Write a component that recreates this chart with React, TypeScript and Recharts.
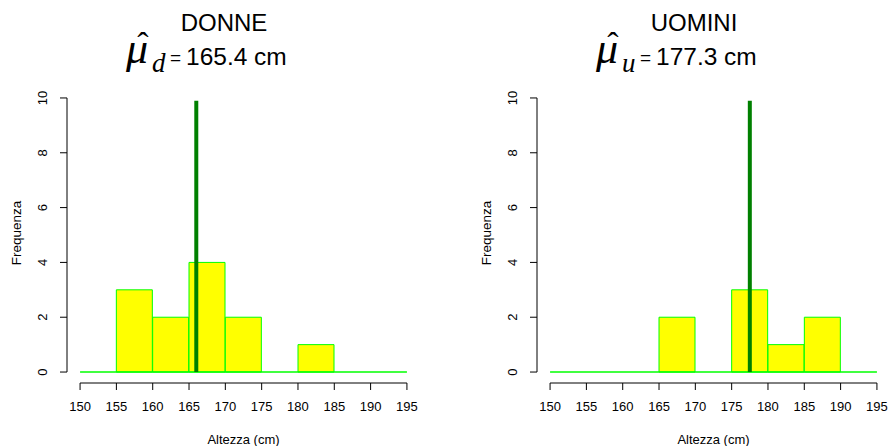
import React from 'react';
import { ComposedChart, Bar, XAxis, YAxis, ReferenceLine } from 'recharts';

const breaks = [150, 155, 160, 165, 170, 175, 180, 185, 190, 195];
const binLabels = ['150-155', '155-160', '160-165', '165-170', '170-175', '175-180', '180-185', '185-190', '190-195'];
const donneCounts = [0, 3, 2, 4, 2, 0, 1, 0, 0];
const uominiCounts = [0, 0, 0, 2, 0, 3, 1, 2, 0];
const yTicks = [0, 2, 4, 6, 8, 10];
const donneMeanLine = 166;
const uominiMeanLine = 177.5;
const donneMeanLabel = '165.4';
const uominiMeanLabel = '177.3';

const SANS = '"Liberation Sans", Arial, Helvetica, sans-serif';
const SERIF = '"Liberation Serif", "Times New Roman", serif';

const W = 445;
const H = 446;
const PLOT_LEFT = 67;
const PLOT_RIGHT_MARGIN = 25;
const PLOT_TOP = 87;
const X_AXIS_H = 63;

const YTick = ({ x, y, payload }: any) => (
  <text
    x={x - 5}
    y={y}
    transform={`rotate(-90 ${x - 5} ${y})`}
    textAnchor="middle"
    dominantBaseline="central"
    fontFamily={SANS}
    fontSize={13}
    fill="#000"
  >
    {payload.value}
  </text>
);

const Histogram = ({ counts, meanLine }: { counts: number[]; meanLine: number }) => {
  const data = binLabels.map((bin, i) => ({
    bin,
    mid: (breaks[i] + breaks[i + 1]) / 2,
    count: counts[i],
  }));
  return (
    <ComposedChart
      width={W}
      height={H}
      data={data}
      barCategoryGap={0}
      barGap={0}
      margin={{ top: PLOT_TOP, right: PLOT_RIGHT_MARGIN, bottom: 0, left: 0 }}
    >
      <XAxis
        xAxisId="num"
        dataKey="mid"
        type="number"
        domain={[148.2, 196.8]}
        ticks={breaks}
        allowDataOverflow
        height={X_AXIS_H}
        axisLine={false}
        tickLine={{ stroke: '#000', strokeWidth: 1 }}
        tickSize={7}
        tickMargin={12}
        tick={{ fontFamily: SANS, fontSize: 13, fill: '#000' }}
        interval={0}
      />
      <XAxis xAxisId="cat" dataKey="bin" type="category" hide height={0} padding={{ left: 13, right: 13 }} />
      <YAxis
        type="number"
        domain={[-0.4, 10.4]}
        ticks={yTicks}
        allowDataOverflow
        width={PLOT_LEFT}
        axisLine={false}
        tickLine={{ stroke: '#000', strokeWidth: 1 }}
        tickSize={7}
        tickMargin={12}
        tick={<YTick />}
        interval={0}
      />
      <ReferenceLine
        xAxisId="num"
        segment={[{ x: breaks[0], y: 0 }, { x: breaks[breaks.length - 1], y: 0 }]}
        stroke="#00ff00"
        strokeWidth={1.5}
        ifOverflow="visible"
      />
      <Bar
        xAxisId="cat"
        dataKey="count"
        fill="#ffff00"
        stroke="#00ff00"
        strokeWidth={1}
        isAnimationActive={false}
      />
      <ReferenceLine
        xAxisId="num"
        segment={[{ x: meanLine, y: 0 }, { x: meanLine, y: 9.9 }]}
        stroke="#008000"
        strokeWidth={4}
        ifOverflow="visible"
      />
      <ReferenceLine
        xAxisId="num"
        segment={[{ x: breaks[0], y: -0.4 }, { x: breaks[breaks.length - 1], y: -0.4 }]}
        stroke="#000"
        strokeWidth={1}
        ifOverflow="visible"
      />
      <ReferenceLine
        xAxisId="num"
        segment={[{ x: 148.2, y: 0 }, { x: 148.2, y: 10 }]}
        stroke="#000"
        strokeWidth={1}
        ifOverflow="visible"
      />
    </ComposedChart>
  );
};

const Titles = ({ name, sub, mean, dx }: { name: string; sub: string; mean: string; dx: number }) => (
  <g transform={`translate(${dx},0)`}>
    <text x={224} y={31} textAnchor="middle" fontFamily={SANS} fontSize={24} fill="#000">
      {name}
    </text>
    <text x={126} y={63} fontFamily={SERIF} fontStyle="italic" fontSize={44} fill="#000">
      {'\u03bc'}
    </text>
    <text x={143} y={56} textAnchor="middle" fontFamily={SERIF} fontSize={34} fill="#000">
      {'\u02c6'}
    </text>
    <text x={152} y={72} fontFamily={SERIF} fontStyle="italic" fontSize={27} fill="#000">
      {sub}
    </text>
    <text x={170} y={64} fontFamily={SANS} fontSize={19} fill="#000">
      =
    </text>
    <text x={186} y={65} fontFamily={SANS} fontSize={24.5} fill="#000">
      {`${mean} cm`}
    </text>
    <text
      x={16}
      y={233}
      transform="rotate(-90 16 233)"
      textAnchor="middle"
      dominantBaseline="central"
      fontFamily={SANS}
      fontSize={13.5}
      fill="#000"
    >
      Frequenza
    </text>
    <text x={243.5} y={439} textAnchor="middle" dominantBaseline="central" fontFamily={SANS} fontSize={13} fill="#000">
      Altezza (cm)
    </text>
  </g>
);

export default function App() {
  return (
    <div style={{ position: 'absolute', left: 0, top: 0, width: 890, height: 446, overflow: 'hidden', background: '#fff' }}>
      <div style={{ position: 'absolute', left: 0, top: 0 }}>
        <Histogram counts={donneCounts} meanLine={donneMeanLine} />
      </div>
      <div style={{ position: 'absolute', left: 470, top: 0 }}>
        <Histogram counts={uominiCounts} meanLine={uominiMeanLine} />
      </div>
      <svg width={890} height={446} style={{ position: 'absolute', left: 0, top: 0, pointerEvents: 'none' }}>
        <Titles name="DONNE" sub="d" mean={donneMeanLabel} dx={0} />
        <Titles name="UOMINI" sub="u" mean={uominiMeanLabel} dx={470} />
      </svg>
    </div>
  );
}
